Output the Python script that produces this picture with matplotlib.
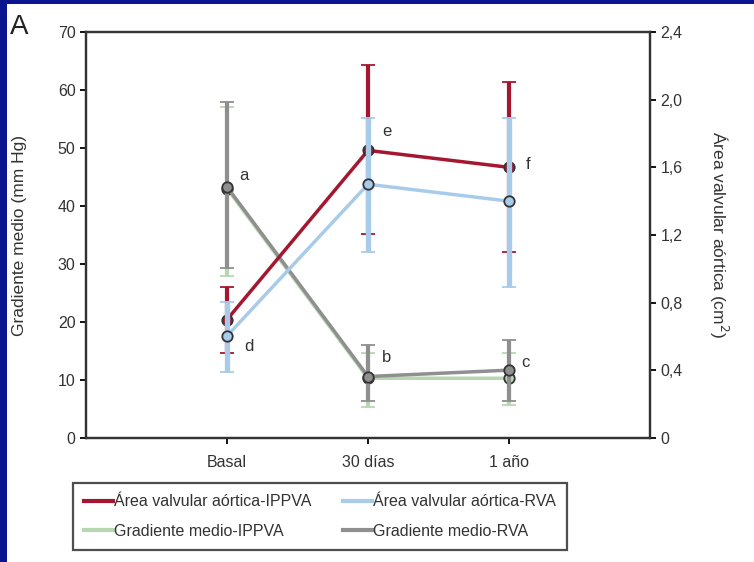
import matplotlib
matplotlib.use('Agg')
import matplotlib.pyplot as plt
from matplotlib.patches import Rectangle
from matplotlib.lines import Line2D

plt.rcParams['font.family'] = ['Liberation Sans', 'DejaVu Sans']

# categorias del eje x
grupos = ['Basal', '30 días', '1 año']

# area valvular aortica (cm2), eje derecho
area_ippva = [0.70, 1.70, 1.60]
area_ippva_sup = [0.895, 2.205, 2.106]
area_ippva_inf = [0.50, 1.204, 1.098]

area_rva = [0.603, 1.50, 1.40]
area_rva_sup = [0.806, 1.894, 1.894]
area_rva_inf = [0.391, 1.098, 0.895]

# gradiente medio (mm Hg), eje izquierdo
grad_ippva = [43.0, 10.3, 10.3]
grad_ippva_sup = [57.1, 14.6, 14.6]
grad_ippva_inf = [28.0, 5.4, 5.7]

grad_rva = [43.3, 10.6, 11.7]
grad_rva_sup = [58.0, 16.0, 16.9]
grad_rva_inf = [29.3, 6.3, 6.3]

letras = ['a', 'd', 'e', 'b', 'f', 'c']
letras_x = [1.09, 1.12, 2.10, 2.10, 3.12, 3.09]
letras_y = [45.3, 15.8, 52.9, 13.8, 47.2, 13.1]

rojo = '#a51731'
azul = '#a9cbea'
verde = '#b7d7b1'
gris = '#8f8f8f'
borde = '#333333'

x = [1, 2, 3]

fig = plt.figure(figsize=(7.54, 5.62), dpi=100)
fig.patch.set_facecolor('#0b1590')
fig.patches.append(Rectangle((7 / 754, 0), 1, 1 - 4 / 562, transform=fig.transFigure,
                             facecolor='white', edgecolor='none', zorder=-5))

ax = fig.add_axes([86 / 754, 1 - 438 / 562, 564 / 754, 406 / 562])
ax.set_facecolor('none')
ax2 = ax.twinx()


def errores(m, sup, inf):
    return [[a - b for a, b in zip(m, inf)], [b - a for a, b in zip(m, sup)]]


ax.errorbar(x, grad_ippva, yerr=errores(grad_ippva, grad_ippva_sup, grad_ippva_inf),
            color=verde, lw=2.5, elinewidth=3, capsize=5, capthick=3,
            marker='o', ms=7.5, mfc=verde, mec=borde, mew=1.3, zorder=2)
ax.errorbar(x, grad_rva, yerr=errores(grad_rva, grad_rva_sup, grad_rva_inf),
            color=gris, lw=2.5, elinewidth=3, capsize=5, capthick=3,
            marker='o', ms=7.5, mfc=gris, mec=borde, mew=1.3, zorder=3)

ax2.errorbar(x, area_ippva, yerr=errores(area_ippva, area_ippva_sup, area_ippva_inf),
             color=rojo, lw=2.5, elinewidth=3, capsize=5, capthick=3,
             marker='o', ms=7.5, mfc=rojo, mec=borde, mew=1.3, zorder=2)
ax2.errorbar(x, area_rva, yerr=errores(area_rva, area_rva_sup, area_rva_inf),
             color=azul, lw=2.5, elinewidth=3.8, capsize=5, capthick=3,
             marker='o', ms=7.5, mfc=azul, mec=borde, mew=1.3, zorder=3)

for t, lx, ly in zip(letras, letras_x, letras_y):
    ax.text(lx, ly, t, fontsize=12, color='#333333', ha='left', va='center')

ax.set_xlim(0, 4)
ax.set_ylim(0, 70)
ax2.set_ylim(0, 2.4)
ax.set_xticks(x)
ax.set_xticklabels(grupos, fontsize=11.5, color='#333333')
ax.set_yticks(range(0, 71, 10))
ax.tick_params(axis='y', labelsize=11.5, labelcolor='#333333', length=4, width=1.3)
ax.tick_params(axis='x', length=4, width=1.3, pad=8)
ax2.set_yticks([0, 0.4, 0.8, 1.2, 1.6, 2.0, 2.4])
ax2.set_yticklabels(['0', '0,4', '0,8', '1,2', '1,6', '2,0', '2,4'])
ax2.tick_params(axis='y', labelsize=11.5, labelcolor='#333333', length=4, width=1.3)

for a in (ax, ax2):
    for s in a.spines.values():
        s.set_color(borde)
        s.set_linewidth(1.6)

ax.set_ylabel('Gradiente medio (mm Hg)', fontsize=12.5, color='#333333', labelpad=22)
ax2.set_ylabel('Área valvular aórtica (cm$^2$)', fontsize=12.5, color='#333333',
               rotation=270, labelpad=34)

fig.text(10 / 754, 1 - 27 / 562, 'A', fontsize=20, color='#222222', va='center', ha='left')

handles = [Line2D([], [], color=rojo, lw=3), Line2D([], [], color=verde, lw=3),
           Line2D([], [], color=azul, lw=3), Line2D([], [], color=gris, lw=3)]
labels = ['Área valvular aórtica-IPPVA', 'Gradiente medio-IPPVA',
          'Área valvular aórtica-RVA', 'Gradiente medio-RVA']
leg = fig.legend(handles, labels, loc='upper left', bbox_to_anchor=(73 / 754, 1 - 483 / 562),
                 ncol=2, fontsize=11.5, frameon=True, fancybox=False, edgecolor='#222222',
                 handlelength=1.8, handletextpad=0.05, columnspacing=2.0, borderpad=0.7,
                 labelspacing=0.9, borderaxespad=0)
leg.get_frame().set_linewidth(1.6)
for t in leg.get_texts():
    t.set_color('#333333')

fig.savefig('out.png', dpi=100, facecolor=fig.get_facecolor())
